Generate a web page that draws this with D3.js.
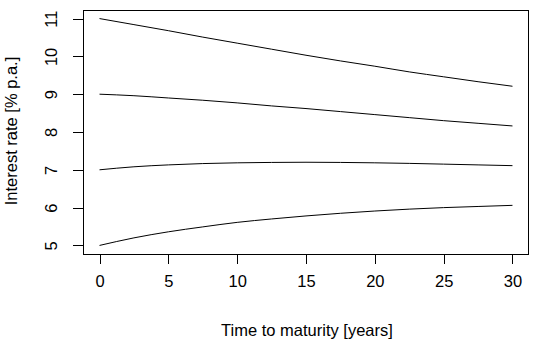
<!DOCTYPE html>
<html><head><meta charset="utf-8">
<script src="https://cdn.jsdelivr.net/npm/d3@7"></script>
<style>
html,body{margin:0;padding:0;background:#fff;}
svg text{font-family:"Liberation Sans",Arial,sans-serif;fill:#000;}
</style></head>
<body><svg id="c" width="536" height="345"></svg>
<script>
// Data
const maturities = [0, 2.5, 5, 7.5, 10, 12.5, 15, 17.5, 20, 22.5, 25, 27.5, 30];
const curve11 = [11.00, 10.84, 10.68, 10.51, 10.35, 10.19, 10.03, 9.88, 9.74, 9.59, 9.46, 9.33, 9.21];
const curve9  = [9.00, 8.96, 8.90, 8.84, 8.77, 8.69, 8.62, 8.54, 8.46, 8.38, 8.30, 8.23, 8.16];
const curve7  = [7.00, 7.08, 7.13, 7.165, 7.185, 7.195, 7.20, 7.195, 7.185, 7.17, 7.15, 7.13, 7.11];
const curve5  = [5.00, 5.20, 5.36, 5.49, 5.61, 5.70, 5.78, 5.85, 5.91, 5.96, 6.00, 6.03, 6.06];
const xTicks = [0, 5, 10, 15, 20, 25, 30];
const yTicks = [5, 6, 7, 8, 9, 10, 11];
const xLabel = "Time to maturity [years]";
const yLabel = "Interest rate [% p.a.]";

const svg = d3.select("#c");
const L = 83, R = 529, T = 9.5, B = 254.5;
const x = d3.scaleLinear().domain([-1.2, 31.2]).range([L, R]);
const y = d3.scaleLinear().domain([4.76, 11.24]).range([B, T]);

// box
svg.append("rect").attr("x", L + 0.5).attr("y", T + 0.5)
  .attr("width", R - L - 1).attr("height", B - T - 1)
  .attr("fill", "none").attr("stroke", "#000").attr("stroke-width", 1)
  .attr("shape-rendering", "crispEdges");

// x axis
const xa = svg.append("g").attr("transform", `translate(0,${B})`)
  .call(d3.axisBottom(x).tickValues(xTicks).tickSize(9).tickPadding(12).tickFormat(d3.format("d")));
xa.select(".domain").remove();
xa.selectAll("line").attr("stroke", "#000").attr("shape-rendering", "crispEdges");
xa.selectAll("text").attr("font-size", 16.5).attr("font-family", "Liberation Sans, Arial, sans-serif");

// y axis
const ya = svg.append("g").attr("transform", `translate(${L},0)`)
  .call(d3.axisLeft(y).tickValues(yTicks).tickSize(10).tickFormat(d3.format("d")));
ya.select(".domain").remove();
ya.selectAll("line").attr("stroke", "#000").attr("shape-rendering", "crispEdges");
ya.selectAll("text").remove();
ya.selectAll(".tick").append("text")
  .attr("transform", "translate(-26,0) rotate(-90)")
  .attr("text-anchor", "middle")
  .attr("font-size", 16.5)
  .attr("font-family", "Liberation Sans, Arial, sans-serif")
  .attr("fill", "#000")
  .text(d => d);

// curves
const line = d3.line().x(d => x(d[0])).y(d => y(d[1])).curve(d3.curveMonotoneX);
[curve11, curve9, curve7, curve5].forEach(c => {
  svg.append("path").datum(maturities.map((m, i) => [m, c[i]]))
    .attr("d", line).attr("fill", "none").attr("stroke", "#000").attr("stroke-width", 1);
});

// labels
svg.append("text").attr("x", (L + R) / 2 + 1).attr("y", 336)
  .attr("text-anchor", "middle").attr("font-size", 16.5).text(xLabel);
svg.append("text").attr("transform", `translate(17,${(T + B) / 2 - 1}) rotate(-90)`)
  .attr("text-anchor", "middle").attr("font-size", 16.5).text(yLabel);
</script></body></html>
